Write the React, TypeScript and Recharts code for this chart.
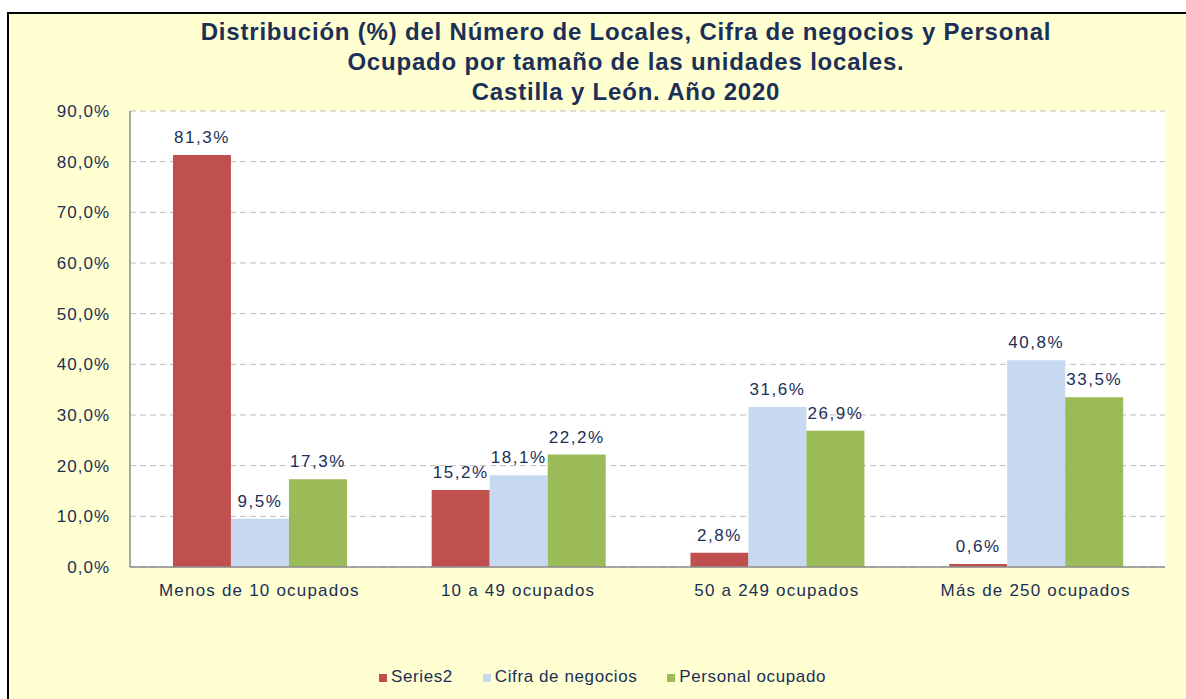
import React from 'react';
import { BarChart, Bar, XAxis, YAxis, CartesianGrid, Legend, LabelList } from 'recharts';

const categories = ['Menos de 10 ocupados', '10 a 49 ocupados', '50 a 249 ocupados', 'Más de 250 ocupados'];
const locales = [81.3, 15.2, 2.8, 0.6];
const cifraNegocios = [9.5, 18.1, 31.6, 40.8];
const personalOcupado = [17.3, 22.2, 26.9, 33.5];
const yTicks = [0, 10, 20, 30, 40, 50, 60, 70, 80, 90];
const seriesNames = ['Series2', 'Cifra de negocios', 'Personal ocupado'];

const data = categories.map((name, i) => ({
  name,
  s2: locales[i],
  cifra: cifraNegocios[i],
  personal: personalOcupado[i],
}));

const NAVY = '#1B2F57';
const FONT = '"Liberation Sans", Arial, sans-serif';
const fmt = (v: number) => `${v.toFixed(1).replace('.', ',')}%`;

export default function App() {
  return (
    <div style={{ position: 'absolute', left: 0, top: 0, width: 1186, height: 699, overflow: 'hidden', background: '#fff', fontFamily: FONT }}>
      <div style={{ position: 'absolute', left: 7, top: 12, width: 1200, height: 700, background: '#FFFFD2', border: '2px solid #000', boxSizing: 'border-box' }} />
      <div style={{ position: 'absolute', left: 0, top: 17, width: 1252, textAlign: 'center', color: NAVY, fontWeight: 'bold', fontSize: 24, letterSpacing: 0.8, lineHeight: '30px' }}>
        <div>Distribución (%) del Número de Locales, Cifra de negocios y Personal</div>
        <div>Ocupado por tamaño de las unidades locales.</div>
        <div>Castilla y León. Año 2020</div>
      </div>
      <div style={{ position: 'absolute', left: 0, top: 0 }}>
        <BarChart
          width={1186}
          height={699}
          data={data}
          margin={{ top: 111, right: 21, bottom: 12, left: 70 }}
          barCategoryGap="16.6%"
          barGap={0}
        >
          <CartesianGrid vertical={false} stroke="#BDBDBD" strokeDasharray="6 4" fill="#ffffff" />
          <XAxis
            dataKey="name"
            height={100}
            tickLine={false}
            tickSize={0}
            tickMargin={17}
            axisLine={{ stroke: '#8C8C8C', strokeWidth: 1.5 }}
            tick={{ fill: NAVY, fontSize: 17, fontFamily: FONT, letterSpacing: 1.2 }}
          />
          <YAxis
            width={60}
            domain={[0, 90]}
            ticks={yTicks}
            tickFormatter={fmt}
            tickLine={false}
            tickSize={0}
            tickMargin={20}
            axisLine={{ stroke: '#8C8C8C', strokeWidth: 1.5 }}
            tick={{ fill: NAVY, fontSize: 17, fontFamily: FONT, letterSpacing: 1 }}
          />
          <Legend
            verticalAlign="bottom"
            iconType="square"
            iconSize={8}
            itemSorter={(item: any) => seriesNames.indexOf(item.value)}
            wrapperStyle={{ fontFamily: FONT, fontSize: 17, letterSpacing: 0.6 }}
            formatter={(value: string) => <span style={{ color: NAVY, marginRight: 20 }}>{value}</span>}
          />
          <Bar dataKey="s2" name="Series2" fill="#C0504D" isAnimationActive={false}>
            <LabelList dataKey="s2" position="top" offset={12} formatter={fmt} fill={NAVY} fontSize={17} fontFamily={FONT} letterSpacing={1.5} />
          </Bar>
          <Bar dataKey="cifra" name="Cifra de negocios" fill="#C6D9F0" isAnimationActive={false}>
            <LabelList dataKey="cifra" position="top" offset={12} formatter={fmt} fill={NAVY} fontSize={17} fontFamily={FONT} letterSpacing={1.5} />
          </Bar>
          <Bar dataKey="personal" name="Personal ocupado" fill="#9BBB59" isAnimationActive={false}>
            <LabelList dataKey="personal" position="top" offset={12} formatter={fmt} fill={NAVY} fontSize={17} fontFamily={FONT} letterSpacing={1.5} />
          </Bar>
        </BarChart>
      </div>
    </div>
  );
}
